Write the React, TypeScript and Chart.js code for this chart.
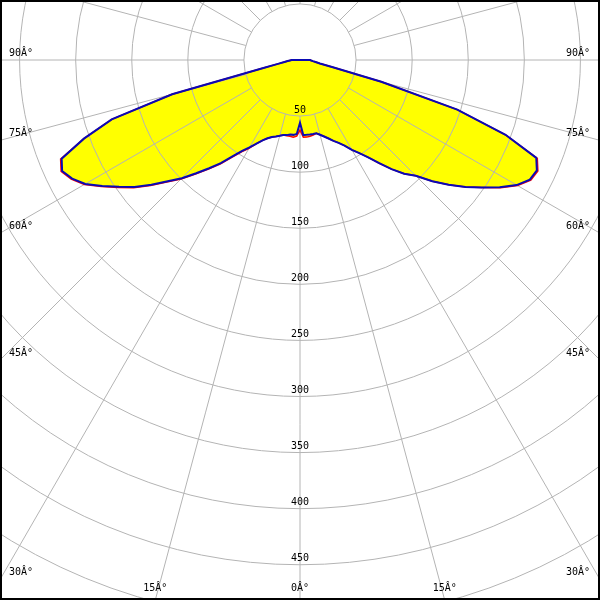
import React, { useEffect, useRef } from "react";
import { Chart, registerables } from "chart.js";

Chart.register(...registerables);

// ---- data (candela / klm style values) ----
// gamma angles of the measured half-planes (0 = straight down)
const gammaAngles = [0, 2.5, 5, 7.5, 10, 12.5, 15, 17.5, 20, 22.5, 25, 27.5, 30, 32.5, 35, 37.5, 40, 42.5, 45, 47.5, 50, 52.5, 55, 57.5, 60, 62.5, 65, 67.5, 70, 72.5, 75, 77.5, 80, 82.5, 85, 87.5, 90];

// blue curve, left half-plane (gamma 0..90)
const blueLeft = [56, 66, 67, 67, 68, 68.5, 70, 71.5, 73, 75.5, 79, 84, 90, 96, 105, 116, 126, 137, 149, 160, 173, 186, 197, 209, 221, 229, 234, 230, 205, 176, 118, 35, 20, 14, 11, 9, 7.5];
// blue curve, right half-plane (gamma 0..90)
const blueRight = [56, 67, 67, 67, 67, 67, 69, 71.5, 74.5, 78, 81.5, 86, 92.5, 98.5, 106, 116, 127, 137.5, 146, 160, 173, 186, 198, 211, 223, 231, 233, 228, 195, 147, 75, 30, 18, 14, 11.5, 10, 9];
// red curve, left half-plane
const redLeft = [62.5, 68, 69, 68.5, 68.5, 68.5, 70, 71.5, 73, 75.5, 79, 84, 91, 97, 106, 117, 127, 138, 150, 161, 174, 187, 198, 210, 222, 230, 235, 231, 205, 176, 118, 35, 20, 14, 11, 9, 7.5];
// red curve, right half-plane
const redRight = [62.5, 69, 69, 68.5, 68, 67, 69, 71.5, 74.5, 78, 81.5, 86, 92.5, 98.5, 106, 116, 127, 137.5, 146, 160, 173, 186, 198, 212, 224, 232, 234, 229, 195, 147, 75, 30, 18, 14, 11.5, 10, 9];

// radial tick labels and angle labels
const radialTicks = [50, 100, 150, 200, 250, 300, 350, 400, 450];
const angleTickDegrees = [0, 15, 30, 45, 60, 75, 90];
const angleTickLabels = ["0Â°", "15Â°", "30Â°", "45Â°", "60Â°", "75Â°", "90Â°"];

// ---- layout / style constants ----
const STEP = 2.5;
const SPOKE_DEG = 15;
const R_MAX = 600;
const R_GRID_MAX = 500;
const CANVAS = 1346;
const VIEW = 600;
const CENTER_X = 300;
const CENTER_Y = 60;
const GRID = "#b4b4b4";
const BLUE = "#0a0ab4";
const RED = "#ff0000";
const YELLOW = "#ffff00";
const FONT = '10px "DejaVu Sans Mono", monospace';

function buildRing(left: number[], right: number[]): number[] {
  const n = Math.round(360 / STEP);
  const out: number[] = new Array(n).fill(0);
  right.forEach((v, i) => {
    out[(n - i) % n] = v;
  });
  left.forEach((v, i) => {
    out[i] = v;
  });
  return out;
}

const polarDecor = {
  id: "polarDecor",
  beforeDatasetsDraw(chart: any) {
    const s = chart.scales.r;
    const ctx = chart.ctx;
    const cx = s.xCenter;
    const cy = s.yCenter;
    const n = chart.data.labels.length;
    const inner = s.getDistanceFromCenterForValue(radialTicks[0]);
    const outer = s.getDistanceFromCenterForValue(s.max);
    ctx.save();
    // spokes every 15 degrees, outside the first circle
    ctx.strokeStyle = GRID;
    ctx.lineWidth = 1;
    const every = Math.round(SPOKE_DEG / STEP);
    for (let i = 0; i < n; i += every) {
      const a = s.getPointPosition(i, inner);
      const b = s.getPointPosition(i, outer);
      ctx.beginPath();
      ctx.moveTo(a.x, a.y);
      ctx.lineTo(b.x, b.y);
      ctx.stroke();
    }
    // radial value labels along the 0 degree spoke
    ctx.fillStyle = "#000";
    ctx.font = FONT;
    ctx.textAlign = "center";
    ctx.textBaseline = "middle";
    radialTicks.forEach((v) => {
      const p = s.getPointPosition(0, s.getDistanceFromCenterForValue(v));
      ctx.fillText(String(v), p.x, p.y - 6);
    });
    // angle labels where spokes leave the view
    const vx0 = cx - CENTER_X;
    const vx1 = vx0 + VIEW;
    const vy1 = cy - CENTER_Y + VIEW;
    angleTickDegrees.forEach((deg, k) => {
      const idx = Math.round(deg / STEP);
      const sides = deg === 0 ? [idx] : [idx, (n - idx) % n];
      sides.forEach((index) => {
        const p = s.getPointPosition(index, outer);
        const dx = (p.x - cx) / outer;
        const dy = (p.y - cy) / outer;
        const tx = Math.abs(dx) > 1e-9 ? ((dx < 0 ? vx0 : vx1) - cx) / dx : Infinity;
        const ty = dy > 1e-9 ? (vy1 - cy) / dy : Infinity;
        if (tx <= ty) {
          const y = cy + dy * tx;
          if (dx < 0) {
            ctx.textAlign = "left";
            ctx.fillText(angleTickLabels[k], vx0 + 9, y - 7);
          } else {
            ctx.textAlign = "right";
            ctx.fillText(angleTickLabels[k], vx1 - 10, y - 7);
          }
        } else {
          const x = cx + dx * ty;
          ctx.textAlign = "center";
          ctx.fillText(angleTickLabels[k], x, vy1 - 12);
        }
      });
    });
    ctx.restore();
  },
};

export default function App() {
  const ref = useRef<HTMLCanvasElement | null>(null);

  useEffect(() => {
    if (!ref.current) return;
    const n = Math.round(360 / STEP);
    const labels = Array.from({ length: n }, (_, i) => String(i * STEP));
    const chart = new Chart(ref.current, {
      type: "radar",
      data: {
        labels,
        datasets: [
          {
            label: "C0-C180",
            data: buildRing(blueLeft, blueRight),
            borderColor: BLUE,
            borderWidth: 2,
            backgroundColor: YELLOW,
            fill: "origin",
            pointRadius: 0,
            pointHoverRadius: 0,
            tension: 0,
          },
          {
            label: "C90-C270",
            data: buildRing(redLeft, redRight),
            borderColor: RED,
            borderWidth: 1.5,
            backgroundColor: YELLOW,
            fill: "origin",
            pointRadius: 0,
            pointHoverRadius: 0,
            tension: 0,
          },
        ],
      },
      options: {
        responsive: false,
        maintainAspectRatio: false,
        animation: false,
        devicePixelRatio: 1,
        layout: { padding: 0 },
        events: [],
        plugins: {
          legend: { display: false },
          tooltip: { enabled: false },
          filler: { propagate: false, drawTime: "beforeDraw" },
        },
        scales: {
          r: {
            min: 0,
            max: R_MAX,
            startAngle: 180,
            ticks: { display: false, stepSize: 50 },
            pointLabels: { display: false },
            angleLines: { display: false },
            grid: {
              circular: true,
              lineWidth: 1,
              color: (c: any) =>
                c.tick && c.tick.value > R_GRID_MAX ? "rgba(0,0,0,0)" : GRID,
            },
          },
        },
      } as any,
      plugins: [polarDecor],
    });
    return () => chart.destroy();
  }, []);

  return (
    <div
      style={{
        position: "fixed",
        left: 0,
        top: 0,
        width: VIEW,
        height: VIEW,
        overflow: "hidden",
        background: "#fff",
      }}
    >
      <canvas
        ref={ref}
        width={CANVAS}
        height={CANVAS}
        style={{
          position: "absolute",
          left: CENTER_X - CANVAS / 2,
          top: CENTER_Y - CANVAS / 2,
          width: CANVAS,
          height: CANVAS,
          display: "block",
        }}
      />
      <div
        style={{
          position: "absolute",
          left: 0,
          top: 0,
          width: VIEW,
          height: VIEW,
          boxSizing: "border-box",
          border: "2px solid #000",
          pointerEvents: "none",
        }}
      />
    </div>
  );
}
